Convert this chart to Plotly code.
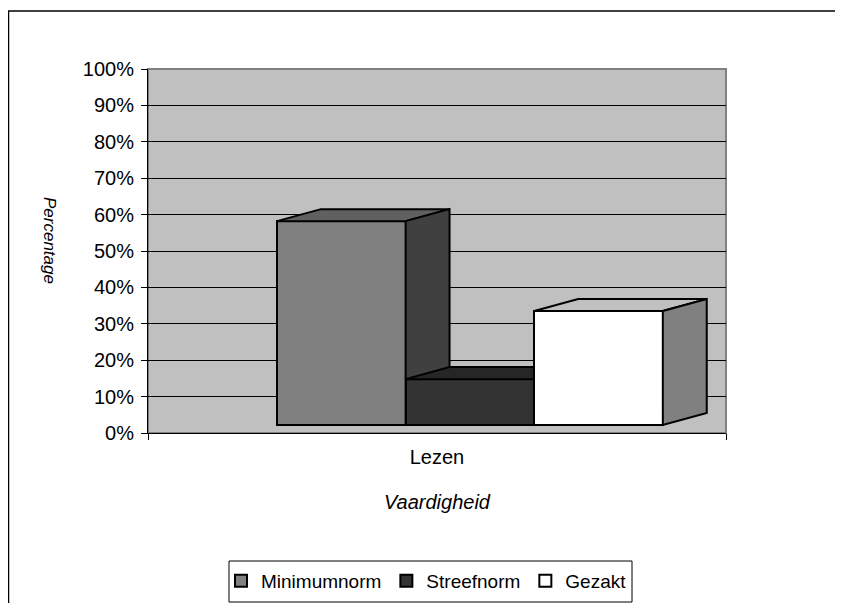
## 3D-look column chart (Excel style) in plotly
import plotly.graph_objects as go

category = 'Lezen'
series_names = ['Minimumnorm', 'Streefnorm', 'Gezakt']
series_values = [56, 12.6, 31.3]
front_colors = ['#808080', '#333333', '#ffffff']
top_colors = ['#606060', '#262626', '#c0c0c0']
side_colors = ['#404040', '#262626', '#808080']
y_ticks = list(range(0, 101, 10))
y_labels = [str(v) + '%' for v in y_ticks]

## the fake depth of the columns, in axis units
BASE = 2.2
DEPTH_X = 0.076
DEPTH_Y = 3.3
BAR_WIDTH = 0.2225
FIRST_LEFT = 0.2232

FONT = 'Liberation Sans, Arial, sans-serif'
OUTLINE = dict(color='black', width=2)

## page pixels of the plot area, the page body has a margin of 8
PLOT_L, PLOT_R, PLOT_T, PLOT_B = 148, 726, 69, 433


def paperX(px):
    return (px - PLOT_L) / (PLOT_R - PLOT_L)


def paperY(py):
    return (PLOT_B - py) / (PLOT_B - PLOT_T)


fig = go.Figure()

for i, name in enumerate(series_names):
    yref = 'y' if i == 0 else 'y' + str(i + 1)
    left = FIRST_LEFT + i * BAR_WIDTH
    right = left + BAR_WIDTH
    top = BASE + series_values[i]
    fig.add_trace(go.Bar(x=[left + BAR_WIDTH / 2], y=[series_values[i]], base=BASE, width=BAR_WIDTH,
                         name=name, yaxis=yref, hoverinfo='name+y',
                         marker=dict(color=front_colors[i], line=OUTLINE)))
    ## top face
    fig.add_trace(go.Scatter(x=[left, right, right + DEPTH_X, left + DEPTH_X, left],
                             y=[top, top, top + DEPTH_Y, top + DEPTH_Y, top],
                             yaxis=yref, mode='lines', fill='toself', fillcolor=top_colors[i],
                             line=OUTLINE, showlegend=False, hoverinfo='skip'))
    ## side face
    fig.add_trace(go.Scatter(x=[right, right + DEPTH_X, right + DEPTH_X, right, right],
                             y=[top, top + DEPTH_Y, BASE + DEPTH_Y, BASE, top],
                             yaxis=yref, mode='lines', fill='toself', fillcolor=side_colors[i],
                             line=OUTLINE, showlegend=False, hoverinfo='skip'))

overlay = dict(range=[0, 100], overlaying='y', visible=False, fixedrange=True)

fig.update_layout(
    width=843,
    height=603,
    margin=dict(l=PLOT_L - 8, r=125, t=PLOT_T - 8, b=178, autoexpand=False),
    paper_bgcolor='white',
    plot_bgcolor='#c0c0c0',
    font=dict(family=FONT, size=20, color='black'),
    bargap=0,
    xaxis=dict(range=[0, 1], tickvals=[0.5], ticktext=[category], ticks='outside', ticklen=6,
               tickcolor='rgba(0,0,0,0)', showgrid=False, zeroline=False, showline=True,
               linecolor='black', linewidth=1, tickfont=dict(size=20),
               minor=dict(tickvals=[0, 1], ticks='outside', ticklen=6, tickcolor='black', showgrid=False),
               title=dict(text='<i>Vaardigheid</i>', standoff=27, font=dict(size=20))),
    yaxis=dict(range=[0, 100], tickvals=y_ticks, ticktext=y_labels, ticks='outside', ticklen=6,
               ticklabelstandoff=3, tickcolor='black', showgrid=True, gridcolor='black', gridwidth=1,
               zeroline=False, showline=True, linecolor='black', linewidth=1),
    yaxis2=overlay,
    yaxis3=overlay,
    legend=dict(orientation='h', x=paperX(426.5), xanchor='center', y=paperY(581), yanchor='middle',
                bgcolor='rgba(0,0,0,0)', borderwidth=0, font=dict(size=19), traceorder='normal'),
    annotations=[dict(text='<i>Percentage</i>', textangle=90, xref='paper', yref='paper',
                      x=paperX(50), y=paperY(240), xanchor='center', yanchor='middle',
                      showarrow=False, font=dict(size=17))],
    shapes=[
        ## the frame of the chart object, cut off by the page
        dict(type='line', xref='paper', yref='paper', x0=paperX(8), x1=paperX(851), y0=paperY(11), y1=paperY(11),
             line=dict(color='black', width=1.5)),
        dict(type='line', xref='paper', yref='paper', x0=paperX(8.5), x1=paperX(8.5), y0=paperY(11), y1=paperY(603),
             line=dict(color='black', width=1.5)),
        ## grey walls of the plot area
        dict(type='rect', xref='paper', yref='paper', x0=0, x1=1, y0=0, y1=1,
             line=dict(color='#808080', width=2), layer='below'),
        ## legend box
        dict(type='rect', xref='paper', yref='paper', x0=paperX(229), x1=paperX(632), y0=paperY(561), y1=paperY(602),
             line=dict(color='black', width=1), layer='below'),
    ],
)

fig.write_html("out.html")
